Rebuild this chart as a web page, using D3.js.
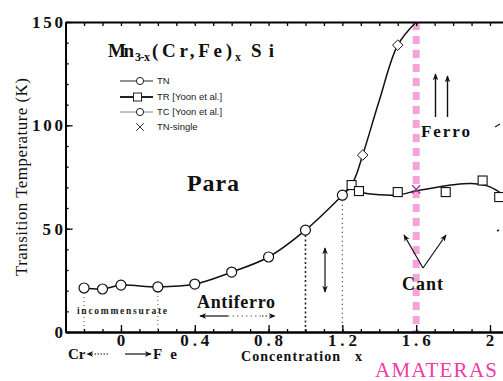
<!DOCTYPE html>
<html><head><meta charset="utf-8">
<script src="https://cdn.jsdelivr.net/npm/d3@7"></script>
<style>
html,body{margin:0;padding:0;background:#fff;}
svg{display:block;}
</style>
</head><body><svg id="chart" width="503" height="381"></svg>
<script>
// Néel temperature (circles)
const tnX = [-0.2, -0.1, 0, 0.2, 0.4, 0.6, 0.8, 1.0, 1.2];
const tnT = [21.3, 20.8, 22.7, 21.8, 23.2, 29.0, 36.3, 49.3, 66.2];
// TR [Yoon et al.] (squares)
const trX = [1.25, 1.29, 1.5, 1.76, 1.96, 2.05];
const trT = [71.1, 68.2, 67.7, 67.7, 73.3, 65.3];
// TC [Yoon et al.] (diamonds)
const tcX = [1.31, 1.5];
const tcT = [85.6, 138.8];
// TN single crystal
const singleX = [1.6];
const singleT = [69];
// guide curves through the reorientation and Curie branches
const trFitX = [1.2, 1.25, 1.3, 1.4, 1.5, 1.6, 1.7, 1.8, 1.9, 2.0, 2.1];
const trFitT = [66.2, 69.5, 67.6, 66.4, 66.3, 68.3, 69.8, 71.2, 71.8, 70.2, 64.5];
const tcFitX = [1.2, 1.26, 1.31, 1.4, 1.5, 1.6];
const tcFitT = [66.2, 73, 85.6, 112, 138.8, 150];
// axis ticks
const xMajor = [0, 0.4, 0.8, 1.2, 1.6, 2];
const xLabels = ["0", "0.4", "0.8", "1.2", "1.6", "2"];
const xMinor = d3.range(-3, 23).map(i => i / 10);
const yMajor = [0, 50, 100, 150];
const yLabels = ["0", "50", "100", "150"];
const yMinor = d3.range(0, 151, 10);

const SERIF = '"Liberation Serif", "Times New Roman", serif';
const SANS = '"Liberation Sans", Arial, sans-serif';

const svg = d3.select("#chart");

const x = d3.scaleLinear().domain([-0.3, 2.2]).range([65.6, 526.9]);
const y = d3.scaleLinear().domain([0, 150]).range([332, 22]);

// text helper: serif by default, styles set inline
const txt = (parent, s, xx, yy, o = {}) => {
  const t = parent.append("text").attr("x", xx).attr("y", yy).text(s)
    .style("font-family", o.sans ? SANS : SERIF)
    .style("font-size", (o.size || 14) + "px")
    .style("font-weight", o.bold ? "bold" : "normal")
    .attr("fill", o.fill || "#111");
  if (o.anchor) t.attr("text-anchor", o.anchor);
  if (o.len) t.attr("textLength", o.len);
  return t;
};

// arrow heads
const defs = svg.append("defs");
defs.append("marker").attr("id", "head").attr("viewBox", "0 0 10 10")
  .attr("refX", 9).attr("refY", 5).attr("markerWidth", 7).attr("markerHeight", 7)
  .attr("orient", "auto-start-reverse").attr("markerUnits", "userSpaceOnUse")
  .append("path").attr("d", "M0,1 L10,5 L0,9 L3,5 Z").attr("fill", "#111");

// AMATERAS cut at x = 1.6
svg.append("line")
  .attr("x1", x(1.6)).attr("x2", x(1.6)).attr("y1", y(150)).attr("y2", y(0))
  .attr("stroke", "#f5a3d8").attr("stroke-width", 7).attr("stroke-dasharray", "8,6");

// dotted drop lines
const drop = (xv, tv, dash, w) => svg.append("line")
  .attr("x1", x(xv)).attr("x2", x(xv)).attr("y1", y(tv) + 5).attr("y2", y(0))
  .attr("stroke", "#222").attr("stroke-width", w).attr("stroke-dasharray", dash);
drop(-0.2, 21.3, "1,3", 0.8);
drop(0.2, 21.8, "1,3", 0.8);
drop(1.0, 49.3, "2,2.5", 1.6);
drop(1.2, 66.2, "1,3.5", 1.2);

// axes
const axStyle = g => {
  g.select(".domain").attr("stroke", "#000").attr("stroke-width", 1.8);
  g.selectAll(".tick line").attr("stroke", "#000").attr("stroke-width", 1.3);
  g.selectAll(".tick text").remove();
};
svg.append("g").attr("transform", `translate(0,${y(0)})`)
  .call(d3.axisBottom(x).tickValues(xMinor).tickSize(-3).tickSizeOuter(0)).call(axStyle);
svg.append("g").attr("transform", `translate(0,${y(0)})`)
  .call(d3.axisBottom(x).tickValues(xMajor).tickSize(-7).tickSizeOuter(0)).call(axStyle);
svg.append("g").attr("transform", `translate(0,${y(150)})`)
  .call(d3.axisTop(x).tickValues(xMinor).tickSize(-4).tickSizeOuter(0)).call(axStyle);
svg.append("g").attr("transform", `translate(${x(-0.3)},0)`)
  .call(d3.axisLeft(y).tickValues(yMinor).tickSize(-3).tickSizeOuter(0)).call(axStyle);
svg.append("g").attr("transform", `translate(${x(-0.3)},0)`)
  .call(d3.axisLeft(y).tickValues(yMajor).tickSize(-7).tickSizeOuter(0)).call(axStyle);

// tick labels
xMajor.forEach((v, i) => txt(svg, xLabels[i], x(v), 346,
  { bold: true, size: 17, anchor: "middle", len: xLabels[i].length > 1 ? 29 : null }));
yMajor.forEach((v, i) => txt(svg, yLabels[i], 63, y(v) + 6,
  { bold: true, size: 17, anchor: "end", len: yLabels[i].length > 1 ? yLabels[i].length * 10.3 : null }));

// axis titles
txt(svg, "Transition Temperature (K)", 0, 0, { size: 17, anchor: "middle", len: 198 })
  .attr("transform", "translate(27,177) rotate(-90)");
txt(svg, "Concentration", 241, 361, { bold: true, size: 14, len: 99 });
txt(svg, "x", 355, 361, { bold: true, size: 14 });
txt(svg, "Cr", 68, 359, { bold: true, size: 15 });
txt(svg, "Fe", 153, 359, { bold: true, size: 15, len: 24 });
svg.append("line").attr("x1", 108).attr("x2", 87).attr("y1", 354).attr("y2", 354)
  .attr("stroke", "#111").attr("stroke-width", 1).attr("stroke-dasharray", "1.5,1.5")
  .attr("marker-end", "url(#head)");
svg.append("line").attr("x1", 125).attr("x2", 151).attr("y1", 354).attr("y2", 354)
  .attr("stroke", "#111").attr("stroke-width", 1.2).attr("marker-end", "url(#head)");
txt(svg, "AMATERAS", 375, 377, { size: 21, fill: "#f03aa6", len: 122 });

// guide curves
const line = d3.line().x(d => x(d[0])).y(d => y(d[1])).curve(d3.curveCatmullRom.alpha(0.5));
const zip = (a, b) => a.map((v, i) => [v, b[i]]);
[[tnX, tnT], [trFitX, trFitT], [tcFitX, tcFitT]].forEach(([a, b]) =>
  svg.append("path").datum(zip(a, b)).attr("d", line)
    .attr("fill", "none").attr("stroke", "#111").attr("stroke-width", 1.5));

// markers
svg.selectAll("circle.tn").data(zip(tnX, tnT)).join("circle").attr("class", "tn")
  .attr("cx", d => x(d[0])).attr("cy", d => y(d[1])).attr("r", 5)
  .attr("fill", "#fff").attr("stroke", "#111").attr("stroke-width", 1.2);
svg.selectAll("rect.tr").data(zip(trX, trT)).join("rect").attr("class", "tr")
  .attr("x", d => x(d[0]) - 4.5).attr("y", d => y(d[1]) - 4.5).attr("width", 9).attr("height", 9)
  .attr("fill", "#fff").attr("stroke", "#111").attr("stroke-width", 1.1);
const diamond = d3.symbol().type(d3.symbolDiamond2).size(70);
svg.selectAll("path.tc").data(zip(tcX, tcT)).join("path").attr("class", "tc")
  .attr("transform", d => `translate(${x(d[0])},${y(d[1])})`).attr("d", diamond)
  .attr("fill", "#fff").attr("stroke", "#111").attr("stroke-width", 1);
const cross = d3.symbol().type(d3.symbolX).size(45);
svg.selectAll("path.sg").data(zip(singleX, singleT)).join("path").attr("class", "sg")
  .attr("transform", d => `translate(${x(d[0])},${y(d[1])})`).attr("d", cross)
  .attr("fill", "none").attr("stroke", "#9c3c8c").attr("stroke-width", 1.4);

// formula
txt(svg, "Mn", 108, 57, { bold: true, size: 19, len: 26 });
txt(svg, "3-x", 135, 61, { bold: true, size: 12, len: 15 });
txt(svg, "(Cr,Fe)", 152, 57, { bold: true, size: 19, len: 80 });
txt(svg, "x", 235, 61, { bold: true, size: 12 });
txt(svg, "Si", 251, 57, { bold: true, size: 19, len: 23 });

// legend
const lg = svg.append("g");
const rows = [
  { label: "TN", kind: "circle", y: 81, w: 1 },
  { label: "TR [Yoon et al.]", kind: "square", y: 97, w: 1.8 },
  { label: "TC [Yoon et al.]", kind: "circle", y: 112, w: 0.8 },
  { label: "TN-single", kind: "x", y: 127, w: 0 }
];
rows.forEach(r => {
  if (r.w) lg.append("line").attr("x1", 120).attr("x2", 153).attr("y1", r.y).attr("y2", r.y)
    .attr("stroke", r.kind === "circle" && r.w < 1 ? "#666" : "#222").attr("stroke-width", r.w);
  if (r.kind === "circle") lg.append("circle").attr("cx", 140).attr("cy", r.y).attr("r", 3.6)
    .attr("fill", "#fff").attr("stroke", "#222").attr("stroke-width", 1);
  if (r.kind === "square") lg.append("rect").attr("x", 133.5).attr("y", r.y - 4).attr("width", 8).attr("height", 8)
    .attr("fill", "#fff").attr("stroke", "#222").attr("stroke-width", 1);
  if (r.kind === "x") lg.append("path").attr("transform", `translate(140,${r.y})`)
    .attr("d", d3.symbol().type(d3.symbolX).size(40)).attr("fill", "none")
    .attr("stroke", "#333").attr("stroke-width", 1);
  txt(lg, r.label, 157, r.y + 3.3, { sans: true, size: 9.5, fill: "#222" });
});

// phase regions
txt(svg, "Para", 187, 191, { bold: true, size: 24, len: 52 });
txt(svg, "Antiferro", 197, 308, { bold: true, size: 18, len: 78 });
txt(svg, "Ferro", 421, 137, { bold: true, size: 17, len: 49 });
txt(svg, "Cant", 402, 290, { bold: true, size: 18, len: 41 });
txt(svg, "incommensurate", 77, 314, { bold: true, size: 9.5, fill: "#222", len: 90 });

// spin arrows
const arrow = (x1, y1, x2, y2, opts = {}) => {
  const l = svg.append("line").attr("x1", x1).attr("y1", y1).attr("x2", x2).attr("y2", y2)
    .attr("stroke", "#111").attr("stroke-width", opts.w || 1.2).attr("marker-end", "url(#head)");
  if (opts.both) l.attr("marker-start", "url(#head)");
  if (opts.dash) l.attr("stroke-dasharray", opts.dash);
  return l;
};
arrow(228, 316, 200, 316);
svg.append("line").attr("x1", 228).attr("x2", 262).attr("y1", 316).attr("y2", 316)
  .attr("stroke", "#333").attr("stroke-width", 0.8).attr("stroke-dasharray", "1.5,3");
arrow(262, 316, 275, 316, { dash: "1.5,2" });
arrow(325, 292, 325, 248, { both: true });
arrow(435.5, 117, 435.5, 74, { w: 1.4 });
arrow(447.5, 117, 447.5, 76, { w: 1.4 });
arrow(423, 268, 404, 235);
arrow(423, 268, 446, 235);
svg.append("line").attr("x1", 495).attr("x2", 500).attr("y1", 127).attr("y2", 124)
  .attr("stroke", "#222").attr("stroke-width", 1.3);
svg.append("line").attr("x1", 497).attr("x2", 499).attr("y1", 231).attr("y2", 230)
  .attr("stroke", "#222").attr("stroke-width", 1.5);
</script></body></html>
